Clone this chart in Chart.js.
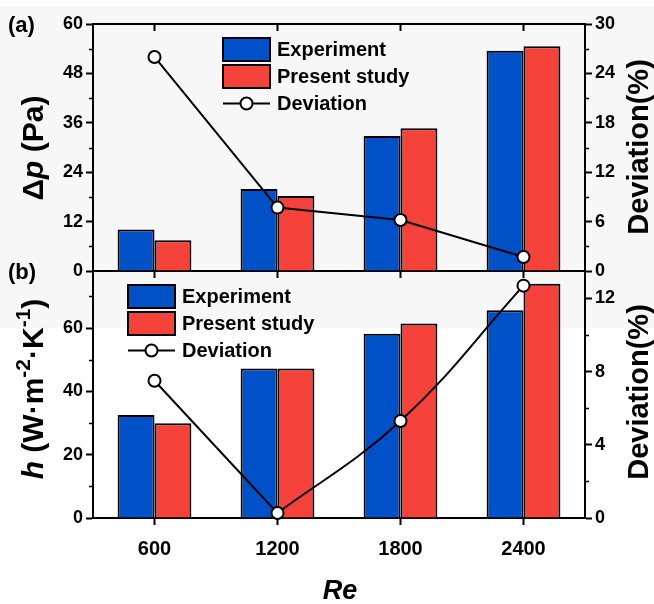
<!DOCTYPE html>
<html><head><meta charset="utf-8">
<script src="https://cdn.jsdelivr.net/npm/chart.js@4.4.1/dist/chart.umd.min.js"></script>
<style>
html,body{margin:0;padding:0;background:#fff;}
#wrap{position:relative;width:654px;height:604px;overflow:hidden;background:#fff;}
#band{position:absolute;left:0;top:6px;width:654px;height:322px;background:#f7f7f7;}
#ca{position:absolute;left:0;top:0;}
#cb{position:absolute;left:0;top:251px;}
</style></head><body>
<div id="wrap"><div id="band"></div>
<canvas id="ca" width="654" height="293"></canvas>
<canvas id="cb" width="654" height="353"></canvas>
</div>
<script>
// ---- data ----
const reLabels = ['600', '1200', '1800', '2400'];
const dpExperiment = [10.1, 19.9, 32.8, 53.5];
const dpPresent = [7.5, 18.2, 34.7, 54.6];
const dpDeviation = [26.0, 7.7, 6.2, 1.7];
const hExperiment = [32.5, 47.2, 58.2, 65.6];
const hPresent = [29.9, 47.2, 61.4, 74.0];
const hDeviation = [7.5, 0.27, 5.3, 12.7];
const seriesNames = ['Experiment', 'Present study', 'Deviation'];

// ---- style ----
const FONT = "'Liberation Sans', Arial, Helvetica, sans-serif";
const BLUE = '#0051c7', RED = '#f5423b', BLACK = '#000';
const OFFSET_B = 251;

function isMajor(v, major) { return Math.abs(v / major - Math.round(v / major)) < 1e-6; }

function yAxis(pos, min, max, step, major, width) {
  return {
    position: pos, min: min, max: max,
    afterFit: s => { s.width = width; },
    ticks: {
      stepSize: step, includeBounds: false, color: BLACK, padding: 3,
      font: { family: FONT, size: 18, weight: 'bold' },
      callback: v => isMajor(v, major) ? String(v) : ''
    },
    grid: {
      drawOnChartArea: false, drawTicks: true, tickLength: 7, tickWidth: 2,
      tickColor: c => (c.tick && isMajor(c.tick.value, major)) ? BLACK : 'rgba(0,0,0,0)'
    },
    border: { display: true, color: BLACK, width: 2 }
  };
}

function xAxis(showLabels, height) {
  return {
    type: 'category', offset: true,
    afterFit: s => { s.height = height; },
    ticks: { display: showLabels, color: BLACK, padding: 12, maxRotation: 0,
      font: { family: FONT, size: 20, weight: 'bold' } },
    grid: { offset: false, drawOnChartArea: false, drawTicks: true, tickLength: 7, tickWidth: 2, tickColor: BLACK },
    border: { display: true, color: BLACK, width: 2 }
  };
}

function datasets(exp, pres, dev, tension) {
  return [
    { type: 'bar', label: seriesNames[0], data: exp, backgroundColor: BLUE, borderColor: BLACK, borderWidth: 2,
      yAxisID: 'y', order: 1, categoryPercentage: 0.6, barPercentage: 1.0 },
    { type: 'bar', label: seriesNames[1], data: pres, backgroundColor: RED, borderColor: BLACK, borderWidth: 2,
      yAxisID: 'y', order: 1, categoryPercentage: 0.6, barPercentage: 1.0 },
    { type: 'line', label: seriesNames[2], data: dev, yAxisID: 'y1', order: 0, borderColor: BLACK, borderWidth: 2,
      pointRadius: 6, pointBackgroundColor: '#fff', pointBorderColor: BLACK, pointBorderWidth: 2,
      tension: tension, clip: false }
  ];
}

// minor ticks (shorter) + top frame
const framePlugin = {
  id: 'frame',
  afterDraw(chart, args, o) {
    const ctx = chart.ctx, a = chart.chartArea;
    ctx.save();
    ctx.strokeStyle = BLACK;
    ctx.lineWidth = 2;
    if (o.topLine) {
      ctx.beginPath(); ctx.moveTo(a.left - 1, a.top); ctx.lineTo(a.right + 1, a.top); ctx.stroke();
    }
    if (o.topTicks) {
      const xs = chart.scales.x;
      xs.ticks.forEach((t, i) => {
        const px = xs.getPixelForTick(i);
        ctx.beginPath(); ctx.moveTo(px, a.top); ctx.lineTo(px, a.top + 7); ctx.stroke();
      });
    }
    ctx.lineWidth = 1.5;
    [['y', o.majorY], ['y1', o.majorY1]].forEach(([id, major]) => {
      const s = chart.scales[id];
      s.ticks.forEach(t => {
        if (isMajor(t.value, major)) return;
        const py = Math.round(s.getPixelForValue(t.value)) + 0.5;
        ctx.beginPath();
        if (s.position === 'left') { ctx.moveTo(a.left - 4, py); ctx.lineTo(a.left, py); }
        else { ctx.moveTo(a.right, py); ctx.lineTo(a.right + 4, py); }
        ctx.stroke();
      });
    });
    ctx.restore();
  }
};

function drawRuns(ctx, runs, x, y, rot) {
  ctx.save();
  ctx.translate(x, y);
  ctx.rotate(rot);
  ctx.fillStyle = BLACK; ctx.textAlign = 'left'; ctx.textBaseline = 'alphabetic';
  let total = 0;
  runs.forEach(r => { ctx.font = r.font; r.w = ctx.measureText(r.t).width; total += r.w; });
  let cx = -total / 2;
  runs.forEach(r => { ctx.font = r.font; ctx.fillText(r.t, cx, r.dy); cx += r.w; });
  ctx.restore();
}

const textPlugin = {
  id: 'texts',
  afterDraw(chart, args, o) {
    const ctx = chart.ctx;
    const dy = o.dy || 0;
    ctx.save();
    ctx.fillStyle = BLACK;
    ctx.font = 'bold 22px ' + FONT; ctx.textAlign = 'left'; ctx.textBaseline = 'alphabetic';
    ctx.fillText(o.panel, 8, o.panelY - dy);
    ctx.restore();
    drawRuns(ctx, o.leftTitle, o.leftX, o.leftY - dy, -Math.PI / 2);
    drawRuns(ctx, [{ t: 'Deviation(%)', font: 'bold 29px ' + FONT, dy: 10 }], 638, o.rightY - dy, -Math.PI / 2);
    if (o.xTitle) {
      ctx.save();
      ctx.fillStyle = BLACK; ctx.font = 'italic bold 27px ' + FONT; ctx.textAlign = 'center'; ctx.textBaseline = 'alphabetic';
      ctx.fillText(o.xTitle, 340, 599 - dy);
      ctx.restore();
    }
    // legend
    const lx = o.legendX, ly = o.legendY - dy;
    ctx.save();
    chart.data.datasets.forEach((ds, i) => {
      const cy = ly + 11.5 + i * 27;
      if (ds.type === 'line') {
        ctx.strokeStyle = BLACK; ctx.lineWidth = 2;
        ctx.beginPath(); ctx.moveTo(lx, cy); ctx.lineTo(lx + 47, cy); ctx.stroke();
        ctx.fillStyle = '#fff';
        ctx.beginPath(); ctx.arc(lx + 23.5, cy, 6, 0, Math.PI * 2); ctx.fill(); ctx.stroke();
      } else {
        ctx.fillStyle = ds.backgroundColor;
        ctx.fillRect(lx, cy - 11.5, 47, 23);
        ctx.strokeStyle = BLACK; ctx.lineWidth = 2;
        ctx.strokeRect(lx, cy - 11.5, 47, 23);
      }
      ctx.fillStyle = BLACK; ctx.font = 'bold 20px ' + FONT; ctx.textAlign = 'left'; ctx.textBaseline = 'middle';
      ctx.fillText(ds.label, lx + 54, cy + 1);
    });
    ctx.restore();
  }
};

// Keep the 600-1200 segment straight in panel (b), spline elsewhere
const splinePlugin = {
  id: 'splineFix',
  beforeDatasetsDraw(chart, args, o) {
    if (!o.enabled) return;
    const meta = chart.getDatasetMeta(2);
    const line = meta.dataset;
    if (!line || !line.updateControlPoints) return;
    line.updateControlPoints(chart.chartArea, 'x');
    const p = meta.data;
    if (p.length < 3) return;
    p[0].cp2x = p[0].x; p[0].cp2y = p[0].y;
    p[1].cp1x = p[1].x; p[1].cp1y = p[1].y;
    p[1].cp2x = p[1].x + (p[2].x - p[1].x) / 3;
    p[1].cp2y = p[1].y + (p[2].y - p[1].y) / 3;
    delete line._path;
  }
};

const FB = 'bold 30px ' + FONT, FBI = 'italic bold 30px ' + FONT, FS = 'bold 21px ' + FONT;

new Chart(document.getElementById('ca'), {
  type: 'bar',
  data: { labels: reLabels, datasets: datasets(dpExperiment, dpPresent, dpDeviation, 0) },
  options: {
    responsive: false, animation: false, events: [],
    layout: { padding: { top: 24, left: 0, right: 0, bottom: 0 } },
    scales: {
      x: xAxis(false, 22),
      y: yAxis('left', 0, 60, 6, 12, 93),
      y1: yAxis('right', 0, 30, 3, 6, 69)
    },
    plugins: {
      legend: { display: false }, tooltip: { enabled: false },
      frame: { topLine: true, topTicks: true, majorY: 12, majorY1: 6 },
      splineFix: { enabled: false },
      texts: {
        dy: 0, panel: '(a)', panelY: 32,
        leftTitle: [ { t: 'Δ', font: FB, dy: 10 }, { t: 'p', font: FBI, dy: 10 }, { t: ' (Pa)', font: FB, dy: 10 } ],
        leftX: 33, leftY: 148, rightY: 147,
        legendX: 223, legendY: 38
      }
    }
  },
  plugins: [framePlugin, textPlugin, splinePlugin]
});

new Chart(document.getElementById('cb'), {
  type: 'bar',
  data: { labels: reLabels, datasets: datasets(hExperiment, hPresent, hDeviation, 0.4) },
  options: {
    responsive: false, animation: false, events: [],
    layout: { padding: { top: 20, left: 0, right: 0, bottom: 0 } },
    scales: {
      x: xAxis(true, 86),
      y: yAxis('left', 0, 78, 10, 20, 93),
      y1: yAxis('right', 0, 13.5, 2, 4, 69)
    },
    plugins: {
      legend: { display: false }, tooltip: { enabled: false },
      frame: { topLine: false, topTicks: false, majorY: 20, majorY1: 4 },
      splineFix: { enabled: true },
      texts: {
        dy: OFFSET_B, panel: '(b)', panelY: 279,
        leftTitle: [ { t: 'h', font: FBI, dy: 10 }, { t: ' (W·m', font: FB, dy: 10 }, { t: '-2', font: FS, dy: -3 },
                     { t: '·K', font: FB, dy: 10 }, { t: '-1', font: FS, dy: -3 }, { t: ')', font: FB, dy: 10 } ],
        leftX: 33, leftY: 389, rightY: 392,
        xTitle: 'Re',
        legendX: 128, legendY: 285
      }
    }
  },
  plugins: [framePlugin, textPlugin, splinePlugin]
});
</script>
</body></html>
